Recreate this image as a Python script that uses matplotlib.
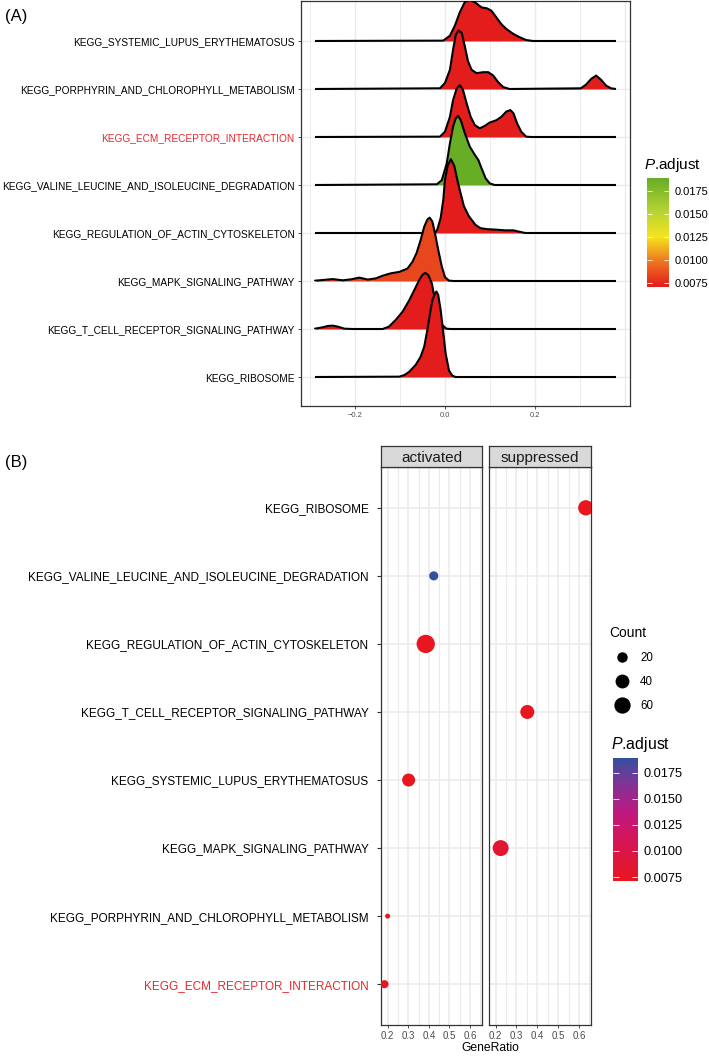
import numpy as np
import matplotlib
matplotlib.use('Agg')
import matplotlib.pyplot as plt
from matplotlib.colors import LinearSegmentedColormap, Normalize
from matplotlib.cm import ScalarMappable
from matplotlib.lines import Line2D

plt.rcParams['font.family'] = ['Liberation Sans', 'DejaVu Sans']
plt.rcParams['mathtext.fontset'] = 'custom'
plt.rcParams['mathtext.rm'] = 'Liberation Sans'
plt.rcParams['mathtext.it'] = 'Liberation Sans:italic'

# ---- data, panel A (ridges), listed bottom row first ----
ridge_names = ['KEGG_RIBOSOME', 'KEGG_T_CELL_RECEPTOR_SIGNALING_PATHWAY',
               'KEGG_MAPK_SIGNALING_PATHWAY', 'KEGG_REGULATION_OF_ACTIN_CYTOSKELETON',
               'KEGG_VALINE_LEUCINE_AND_ISOLEUCINE_DEGRADATION', 'KEGG_ECM_RECEPTOR_INTERACTION',
               'KEGG_PORPHYRIN_AND_CHLOROPHYLL_METABOLISM', 'KEGG_SYSTEMIC_LUPUS_ERYTHEMATOSUS']
ridge_padj = [0.0072, 0.0072, 0.0085, 0.0072, 0.0189, 0.0072, 0.0072, 0.0072]

ribosome_x = [-0.101, -0.090, -0.079, -0.065, -0.054, -0.046, -0.039, -0.033, -0.028,
              -0.022, -0.019, -0.015, -0.0096, -0.0044, 0.0015, 0.0088, 0.016, 0.0235]
ribosome_h = [0.007, 0.04, 0.11, 0.25, 0.42, 0.63, 0.98, 1.33, 1.60,
              1.74, 1.78, 1.71, 1.40, 0.98, 0.49, 0.14, 0.03, 0.0]

tcell_x = [-0.288, -0.271, -0.260, -0.249, -0.2375, -0.223, -0.204, -0.138, -0.124, -0.109,
           -0.094, -0.079, -0.068, -0.057, -0.050, -0.044, -0.037, -0.029, -0.022, -0.013,
           -0.006, 0.003, 0.0125]
tcell_h = [0.007, 0.035, 0.0625, 0.07, 0.05, 0.007, 0.0, 0.0, 0.05, 0.19,
           0.36, 0.60, 0.81, 1.02, 1.125, 1.17, 1.125, 0.95, 0.60, 0.26,
           0.083, 0.007, 0.0]

mapk_x = [-0.288, -0.271, -0.249, -0.226, -0.208, -0.190, -0.171, -0.153, -0.138, -0.120,
          -0.101, -0.083, -0.072, -0.063, -0.054, -0.046, -0.039, -0.034, -0.028, -0.022,
          -0.015, -0.007, 0.0, 0.009, 0.020]
mapk_h = [0.007, 0.02, 0.04, 0.014, 0.035, 0.07, 0.03, 0.055, 0.11, 0.16,
          0.19, 0.26, 0.40, 0.58, 0.85, 1.13, 1.28, 1.32, 1.24, 0.99,
          0.65, 0.30, 0.08, 0.007, 0.0]

regulation_x = [-0.022, -0.017, -0.0096, -0.0037, 0.0, 0.0059, 0.0132, 0.0206, 0.0272, 0.0346,
                0.0419, 0.0529, 0.0676, 0.0787, 0.0934, 0.112, 0.134, 0.152, 0.163, 0.178]
regulation_h = [0.0, 0.07, 0.31, 0.69, 1.11, 1.40, 1.54, 1.40, 1.11, 0.83,
                0.56, 0.35, 0.17, 0.10, 0.08, 0.07, 0.055, 0.055, 0.03, 0.0]

valine_x = [-0.018, -0.007, 0.004, 0.011, 0.018, 0.024, 0.029, 0.035, 0.044, 0.055,
            0.066, 0.074, 0.081, 0.090, 0.099, 0.110]
valine_h = [0.014, 0.10, 0.45, 0.87, 1.22, 1.39, 1.44, 1.35, 1.08, 0.80,
            0.63, 0.52, 0.35, 0.14, 0.035, 0.0]

ecm_x = [-0.011, 0.0, 0.011, 0.018, 0.026, 0.033, 0.040, 0.048, 0.057, 0.066, 0.077,
         0.088, 0.099, 0.114, 0.125, 0.136, 0.145, 0.152, 0.160, 0.169, 0.180, 0.191]
ecm_h = [0.007, 0.11, 0.42, 0.77, 1.01, 1.08, 0.98, 0.70, 0.42, 0.25, 0.18,
         0.23, 0.30, 0.35, 0.42, 0.53, 0.56, 0.49, 0.28, 0.11, 0.007, 0.0]

porphyrin_x = [-0.011, 0.0, 0.011, 0.018, 0.024, 0.030, 0.037, 0.044, 0.051, 0.059, 0.070,
               0.085, 0.096, 0.107, 0.118, 0.129, 0.143, 0.301, 0.3125, 0.324, 0.335,
               0.346, 0.357, 0.368, 0.379]
porphyrin_h = [0.014, 0.125, 0.40, 0.82, 1.13, 1.22, 1.17, 0.89, 0.58, 0.40, 0.33,
               0.35, 0.35, 0.28, 0.14, 0.04, 0.0, 0.014, 0.09, 0.21, 0.28,
               0.19, 0.07, 0.014, 0.0]

systemic_x = [-0.004, 0.011, 0.022, 0.033, 0.044, 0.055, 0.066, 0.081, 0.093, 0.103,
              0.114, 0.125, 0.136, 0.151, 0.165, 0.180, 0.195]
systemic_h = [0.007, 0.11, 0.32, 0.60, 0.81, 0.85, 0.81, 0.70, 0.68, 0.63,
              0.49, 0.35, 0.25, 0.15, 0.08, 0.02, 0.0]

ridge_x = [ribosome_x, tcell_x, mapk_x, regulation_x, valine_x, ecm_x, porphyrin_x, systemic_x]
ridge_h = [ribosome_h, tcell_h, mapk_h, regulation_h, valine_h, ecm_h, porphyrin_h, systemic_h]
x_start, x_end = -0.288, 0.379

# ---- data, panel B (dot plot), listed bottom row first ----
dot_names = ['KEGG_ECM_RECEPTOR_INTERACTION', 'KEGG_PORPHYRIN_AND_CHLOROPHYLL_METABOLISM',
             'KEGG_MAPK_SIGNALING_PATHWAY', 'KEGG_SYSTEMIC_LUPUS_ERYTHEMATOSUS',
             'KEGG_T_CELL_RECEPTOR_SIGNALING_PATHWAY', 'KEGG_REGULATION_OF_ACTIN_CYTOSKELETON',
             'KEGG_VALINE_LEUCINE_AND_ISOLEUCINE_DEGRADATION', 'KEGG_RIBOSOME']
dot_group = ['activated', 'activated', 'suppressed', 'activated',
             'suppressed', 'activated', 'activated', 'suppressed']
dot_ratio = [0.185, 0.200, 0.224, 0.302, 0.352, 0.385, 0.424, 0.633]
dot_count = [12, 8, 57, 34, 41, 80, 15, 51]
dot_padj = [0.0072, 0.0072, 0.0085, 0.0072, 0.0072, 0.0072, 0.0189, 0.0072]
highlight = 'KEGG_ECM_RECEPTOR_INTERACTION'

# ---- layout helpers ----
W, H = 709, 1056
fig = plt.figure(figsize=(W / 100, H / 100), dpi=100)


def box(l, t, r, b):
    return [l / W, 1 - b / H, (r - l) / W, (b - t) / H]


red = '#E8262B'
grid_c = '#EBEBEB'
frame_c = '#333333'
top_cmap = LinearSegmentedColormap.from_list(
    'ryg', [(0, '#E31A1C'), (0.25, '#EE7D1F'), (0.46, '#F5E41F'), (0.7, '#B5D334'), (1, '#68AD26')])
bot_cmap = LinearSegmentedColormap.from_list(
    'rb', [(0, '#E8161E'), (0.35, '#D4155A'), (0.55, '#C0177F'), (0.8, '#7E3596'), (1, '#34509F')])
norm = Normalize(0.00712, 0.0189)

# ---- panel A ----
ax = fig.add_axes(box(301, 1, 630, 406))
ax.set_xlim(-0.319, 0.410)
ax.set_ylim(0.396, 8.833)
for xv in [-0.3, -0.1, 0.1, 0.3]:
    ax.axvline(xv, color=grid_c, lw=0.7, zorder=0)
for xv in [-0.2, 0.0, 0.2, 0.4]:
    ax.axvline(xv, color=grid_c, lw=1.0, zorder=0)
for i in range(len(ridge_names)):
    ax.axhline(i + 1, color=grid_c, lw=1.0, zorder=0)

for i in range(len(ridge_names) - 1, -1, -1):
    xs = np.array(ridge_x[i])
    hs = np.array(ridge_h[i])
    z = 10 + (len(ridge_names) - i) * 2
    ax.fill_between(xs, i + 1, i + 1 + hs, color=top_cmap(norm(ridge_padj[i])), lw=0, zorder=z)
    lx = np.concatenate([[x_start], xs, [x_end]])
    lh = np.concatenate([[0.0], hs, [0.0]])
    ax.plot(lx, i + 1 + lh, color='black', lw=1.5, zorder=z + 1,
            solid_capstyle='butt', solid_joinstyle='round')

ax.set_yticks(range(1, len(ridge_names) + 1))
ax.set_yticklabels(ridge_names, fontsize=7.25)
for lab in ax.get_yticklabels():
    lab.set_color(red if lab.get_text() == highlight else 'black')
ax.set_xticks([-0.2, 0.0, 0.2])
ax.set_xticklabels(['\u22120.2', '0.0', '0.2'], fontsize=5.4, color='#4D4D4D')
ax.tick_params(axis='both', length=2.5, width=0.6, color=frame_c, pad=2)
for sp in ax.spines.values():
    sp.set_color(frame_c)
    sp.set_linewidth(0.9)

cax = fig.add_axes(box(647, 178, 669, 287))
cb = fig.colorbar(ScalarMappable(norm=norm, cmap=top_cmap), cax=cax)
cb.outline.set_visible(False)
cb.set_ticks([0.0075, 0.0100, 0.0125, 0.0150, 0.0175])
cb.set_ticklabels(['0.0075', '0.0100', '0.0125', '0.0150', '0.0175'])
cax.tick_params(direction='in', color='white', length=3.5, width=0.6, left=True, right=True,
                labelsize=8, pad=4)
fig.text(644 / W, 1 - 165 / H, r'$\mathit{P}$.adjust', fontsize=11, va='center', ha='left')

fig.text(5 / W, 1 - 16 / H, '(A)', fontsize=12, va='center', ha='left')
fig.text(5 / W, 1 - 463 / H, '(B)', fontsize=12, va='center', ha='left')

# ---- panel B ----
def dot_diam(c):
    cmin, cmax = min(dot_count), max(dot_count)
    return 5 + 13.3 * np.sqrt((np.asarray(c) - cmin) / (cmax - cmin))


boxes = {'activated': (381, 482), 'suppressed': (489, 591)}
ypos = np.arange(1, len(dot_names) + 1)
for k, (grp, (l, r)) in enumerate(boxes.items()):
    bx = fig.add_axes(box(l, 467, r, 1025))
    bx.set_xlim(0.168, 0.658)
    bx.set_ylim(0.4, 8.6)
    for xv in [0.25, 0.35, 0.45, 0.55, 0.65]:
        bx.axvline(xv, color=grid_c, lw=0.8, zorder=0)
    for xv in [0.2, 0.3, 0.4, 0.5, 0.6]:
        bx.axvline(xv, color=grid_c, lw=1.1, zorder=0)
    for yv in ypos:
        bx.axhline(yv, color=grid_c, lw=1.1, zorder=0)
    sel = [j for j in range(len(dot_names)) if dot_group[j] == grp]
    xs = [dot_ratio[j] for j in sel]
    ys = [ypos[j] for j in sel]
    d = dot_diam([dot_count[j] for j in sel]) * 0.72
    cs = [bot_cmap(norm(dot_padj[j])) for j in sel]
    bx.scatter(xs, ys, s=d ** 2, c=cs, linewidths=0, zorder=3)
    bx.set_xticks([0.2, 0.3, 0.4, 0.5, 0.6])
    bx.set_xticklabels(['0.2', '0.3', '0.4', '0.5', '0.6'], fontsize=7.0, color='#4D4D4D')
    bx.set_yticks(ypos)
    if k == 0:
        bx.set_yticklabels(dot_names, fontsize=8.5)
        for lab in bx.get_yticklabels():
            lab.set_color(red if lab.get_text() == highlight else 'black')
        bx.tick_params(axis='y', length=3, width=0.8, color=frame_c, pad=6)
    else:
        bx.set_yticklabels([])
        bx.tick_params(axis='y', length=0)
    bx.tick_params(axis='x', length=2.5, width=0.6, color=frame_c, pad=2)
    for sp in bx.spines.values():
        sp.set_color(frame_c)
        sp.set_linewidth(0.9)

    st = fig.add_axes(box(l, 446, r, 467))
    st.set_facecolor('#D9D9D9')
    st.set_xticks([])
    st.set_yticks([])
    for sp in st.spines.values():
        sp.set_color(frame_c)
        sp.set_linewidth(0.9)
    st.text(0.5, 0.45, grp, transform=st.transAxes, ha='center', va='center',
            fontsize=11, color='#1A1A1A')

fig.text(490 / W, 1 - 1048 / H, 'GeneRatio', fontsize=8.7, ha='center', va='center')

# size legend
leg_counts = [20, 40, 60]
handles = [Line2D([], [], ls='', marker='o', color='black', markeredgewidth=0,
                  markersize=float(dot_diam(c)) * 0.72) for c in leg_counts]
fig.legend(handles, [str(c) for c in leg_counts], title='Count', loc='upper left',
           bbox_to_anchor=(609 / W, 1 - 626 / H), frameon=False, fontsize=8.3,
           title_fontsize=9.9, handletextpad=0.5, labelspacing=1.05, borderaxespad=0,
           borderpad=0, alignment='left', handlelength=2.2)

cax2 = fig.add_axes(box(613, 758, 638, 881))
cb2 = fig.colorbar(ScalarMappable(norm=norm, cmap=bot_cmap), cax=cax2)
cb2.outline.set_visible(False)
cb2.set_ticks([0.0075, 0.0100, 0.0125, 0.0150, 0.0175])
cb2.set_ticklabels(['0.0075', '0.0100', '0.0125', '0.0150', '0.0175'])
cax2.tick_params(direction='in', color='white', length=4, width=0.6, left=True, right=True,
                 labelsize=9.2, pad=4)
fig.text(611 / W, 1 - 744 / H, r'$\mathit{P}$.adjust', fontsize=11.4, va='center', ha='left')

fig.savefig('out.png', dpi=100)
